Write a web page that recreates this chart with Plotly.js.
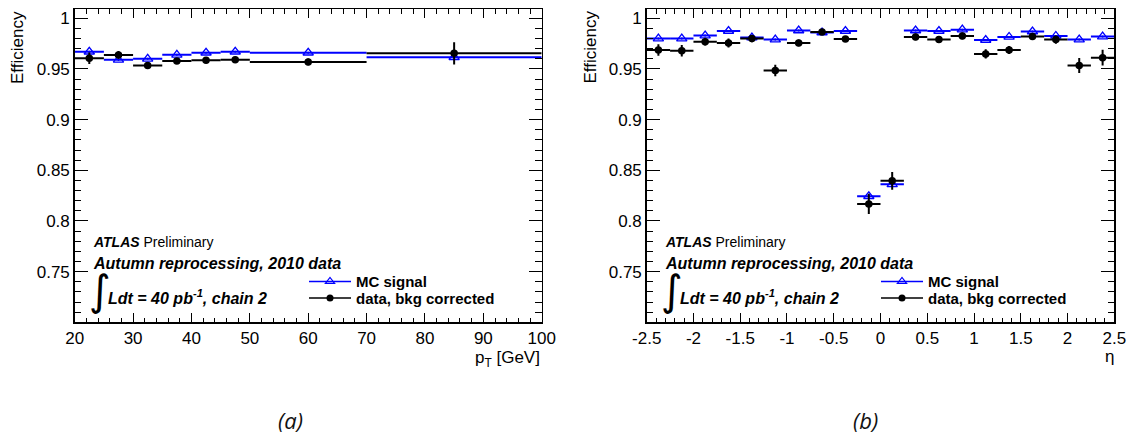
<!DOCTYPE html>
<html><head><meta charset="utf-8">
<script src="https://cdn.plot.ly/plotly-3.0.1.min.js"></script>
<style>html,body{margin:0;padding:0;background:#fff}#chart{width:1128px;height:435px}</style>
</head><body><div id="chart"></div>
<script>
// ---- data: panel (a) efficiency vs pT ----
const ptBinCenters = [22.5, 27.5, 32.5, 37.5, 42.5, 47.5, 60, 85];
const ptBinHalfWidths = [2.5, 2.5, 2.5, 2.5, 2.5, 2.5, 10, 15];
const ptMC = [0.967, 0.959, 0.960, 0.964, 0.966, 0.967, 0.966, 0.9616];
const ptMCErr = [0.001, 0.001, 0.001, 0.001, 0.001, 0.001, 0.001, 0.001];
const ptData = [0.9606, 0.9639, 0.9534, 0.958, 0.9587, 0.959, 0.957, 0.9655];
const ptDataErr = [0.0057, 0.0038, 0.003, 0.0028, 0.003, 0.003, 0.0033, 0.011];

// ---- data: panel (b) efficiency vs eta ----
const etaBinCenters = [-2.375, -2.125, -1.875, -1.625, -1.375, -1.125, -0.875, -0.625, -0.375, -0.125,
                       0.125, 0.375, 0.625, 0.875, 1.125, 1.375, 1.625, 1.875, 2.125, 2.375];
const etaBinHalfWidths = [0.125, 0.125, 0.125, 0.125, 0.125, 0.125, 0.125, 0.125, 0.125, 0.125,
                          0.125, 0.125, 0.125, 0.125, 0.125, 0.125, 0.125, 0.125, 0.125, 0.125];
const etaMC = [0.980, 0.980, 0.983, 0.9875, 0.981, 0.979, 0.988, 0.986, 0.9875, 0.8244,
               0.8362, 0.988, 0.9875, 0.9888, 0.9786, 0.9816, 0.987, 0.9826, 0.979, 0.982];
const etaMCErr = [0.001, 0.001, 0.001, 0.001, 0.001, 0.001, 0.001, 0.001, 0.001, 0.002,
                  0.002, 0.001, 0.001, 0.001, 0.001, 0.001, 0.001, 0.001, 0.001, 0.001];
const etaData = [0.9688, 0.968, 0.977, 0.9757, 0.980, 0.9485, 0.9757, 0.9865, 0.9796, 0.8168,
                 0.8396, 0.9816, 0.979, 0.9826, 0.9649, 0.9688, 0.982, 0.979, 0.9534, 0.9612];
const etaDataErr = [0.0057, 0.0057, 0.0038, 0.0044, 0.0036, 0.0057, 0.0033, 0.0026, 0.003, 0.01,
                    0.0087, 0.0033, 0.0033, 0.0033, 0.0046, 0.004, 0.0033, 0.004, 0.0074, 0.0078];

// ---- tick labels ----
const yTickVals = [0.75, 0.8, 0.85, 0.9, 0.95, 1];
const yTickLabels = ['0.75', '0.8', '0.85', '0.9', '0.95', '1'];
const ptTickVals = [20, 30, 40, 50, 60, 70, 80, 90, 100];
const ptTickLabels = ['20', '30', '40', '50', '60', '70', '80', '90', '100'];
const etaTickVals = [-2.5, -2, -1.5, -1, -0.5, 0, 0.5, 1, 1.5, 2, 2.5];
const etaTickLabels = ['-2.5', '-2', '-1.5', '-1', '-0.5', '0', '0.5', '1', '1.5', '2', '2.5'];

const seriesNames = ['MC signal', 'data, bkg corrected'];

// ---- layout helpers ----
const W = 1128, H = 435;
const px = v => v / W;
const py = v => 1 - v / H;
const F = '"Liberation Sans", Arial, Helvetica, sans-serif';
const BLUE = '#0000ff';

const mcMarker = {symbol: 'triangle-up-open', size: 9, color: BLUE, line: {width: 1.3, color: BLUE}};
const dataMarker = {symbol: 'circle', size: 7.5, color: 'black', line: {width: 0}};
const mcLegMarker = {symbol: 'triangle-up-open', size: 8, color: BLUE, line: {width: 1.2, color: BLUE}};
const dataLegMarker = {symbol: 'circle', size: 7, color: 'black', line: {width: 0}};

function mcTrace(x, hw, y, ey, xa, ya) {
  return {type: 'scatter', mode: 'markers', x: x, y: y, xaxis: xa, yaxis: ya,
    marker: mcMarker, showlegend: false, hoverinfo: 'skip',
    error_x: {type: 'data', array: hw, width: 0, thickness: 2, color: BLUE},
    error_y: {type: 'data', array: ey, width: 0, thickness: 1.5, color: BLUE}};
}
function dataTrace(x, hw, y, ey, xa, ya) {
  return {type: 'scatter', mode: 'markers', x: x, y: y, xaxis: xa, yaxis: ya,
    marker: dataMarker, showlegend: false, hoverinfo: 'skip',
    error_x: {type: 'data', array: hw, width: 0, thickness: 2, color: 'black'},
    error_y: {type: 'data', array: ey, width: 0, thickness: 2, color: 'black'}};
}
function legendTrace(name, color, marker, legendId, xa, ya) {
  return {type: 'scatter', mode: 'lines+markers', x: [null], y: [null], xaxis: xa, yaxis: ya,
    name: name, legend: legendId, showlegend: true,
    line: {color: color, width: 1.5}, marker: marker};
}

const traces = [
  mcTrace(ptBinCenters, ptBinHalfWidths, ptMC, ptMCErr, 'x', 'y'),
  dataTrace(ptBinCenters, ptBinHalfWidths, ptData, ptDataErr, 'x', 'y'),
  mcTrace(etaBinCenters, etaBinHalfWidths, etaMC, etaMCErr, 'x2', 'y2'),
  dataTrace(etaBinCenters, etaBinHalfWidths, etaData, etaDataErr, 'x2', 'y2'),
  legendTrace(seriesNames[0], BLUE, mcLegMarker, 'legend', 'x', 'y'),
  legendTrace(seriesNames[1], 'black', dataLegMarker, 'legend2', 'x', 'y'),
  legendTrace(seriesNames[0], BLUE, mcLegMarker, 'legend3', 'x2', 'y2'),
  legendTrace(seriesNames[1], 'black', dataLegMarker, 'legend4', 'x2', 'y2')
];

const axisCommon = {
  showline: true, linecolor: 'black', linewidth: 1.5, mirror: 'ticks',
  ticks: 'inside', tickcolor: 'black', tickwidth: 1, showgrid: false, zeroline: false,
  tickfont: {family: F, size: 17, color: 'black'}, fixedrange: true
};
const yDomain = [py(322.3), py(9)];
const xDomainA = [px(74.7), px(541.7)];
const xDomainB = [px(646.7), px(1114.3)];

function yAxis(anchor) {
  return Object.assign({}, axisCommon, {
    domain: yDomain, range: [0.70, 1.0092], anchor: anchor,
    tickmode: 'array', tickvals: yTickVals, ticktext: yTickLabels, ticklen: 13,
    minor: {tickmode: 'linear', tick0: 0.7, dtick: 0.01, ticklen: 6.5, ticks: 'inside', tickcolor: 'black', tickwidth: 1}
  });
}

function legendAt(x, y) {
  return {x: px(x), y: py(y), xanchor: 'left', yanchor: 'middle', xref: 'paper', yref: 'paper',
    bgcolor: 'rgba(0,0,0,0)', borderwidth: 0, itemwidth: 42,
    font: {family: F, size: 15, color: 'black', weight: 'bold'}};
}

const annotations = [];
function addText(text, x, y, size, opts) {
  annotations.push(Object.assign({text: text, x: px(x), y: py(y), xref: 'paper', yref: 'paper',
    xanchor: 'left', yanchor: 'middle', showarrow: false,
    font: {family: F, size: size, color: 'black'}}, opts || {}));
}
[0, 572].forEach(off => {
  addText('<b><i>ATLAS</i></b> Preliminary', 91 + off, 241.7, 14);
  addText('<b><i>Autumn reprocessing, 2010 data</i></b>', 91 + off, 263.3, 16);
  addText('\u222B', 87 + off, 290.5, 42, {font: {family: 'DejaVu Sans', size: 42, color: 'black'}});
  addText('<b><i>Ldt = 40 pb<sup>-1</sup>, chain 2</i></b>', 106 + off, 296.7, 16);
});
// y axis titles
[17.5, 590].forEach(x => {
  annotations.push({text: 'Efficiency', x: px(x), y: py(9), xref: 'paper', yref: 'paper',
    xanchor: 'center', yanchor: 'top', textangle: -90, showarrow: false,
    font: {family: F, size: 17, color: 'black'}});
});
// x axis titles
annotations.push({text: 'p<sub>T</sub> [GeV]', x: px(542), y: py(346), xref: 'paper', yref: 'paper',
  xanchor: 'right', yanchor: 'top', showarrow: false, font: {family: F, size: 17, color: 'black'}});
annotations.push({text: '\u03B7', x: px(1116), y: py(345), xref: 'paper', yref: 'paper',
  xanchor: 'right', yanchor: 'top', showarrow: false, font: {family: F, size: 17, color: 'black'}});
// panel labels
annotations.push({text: '<i>(a)</i>', x: px(290), y: py(420), xref: 'paper', yref: 'paper',
  xanchor: 'center', yanchor: 'middle', showarrow: false, font: {family: 'Open Sans', size: 22, color: '#111'}});
annotations.push({text: '<i>(b)</i>', x: px(865), y: py(420), xref: 'paper', yref: 'paper',
  xanchor: 'center', yanchor: 'middle', showarrow: false, font: {family: 'Open Sans', size: 22, color: '#111'}});

const layout = {
  width: W, height: H, margin: {l: 0, r: 0, t: 0, b: 0},
  paper_bgcolor: 'white', plot_bgcolor: 'white',
  font: {family: F, color: 'black'},
  xaxis: Object.assign({}, axisCommon, {
    domain: xDomainA, range: [20, 100], anchor: 'y',
    tickmode: 'array', tickvals: ptTickVals, ticktext: ptTickLabels, ticklen: 9,
    minor: {tickmode: 'linear', tick0: 20, dtick: 2, ticklen: 4.5, ticks: 'inside', tickcolor: 'black', tickwidth: 1}
  }),
  yaxis: yAxis('x'),
  xaxis2: Object.assign({}, axisCommon, {
    domain: xDomainB, range: [-2.5, 2.5], anchor: 'y2',
    tickmode: 'array', tickvals: etaTickVals, ticktext: etaTickLabels, ticklen: 9,
    minor: {tickmode: 'linear', tick0: -2.5, dtick: 0.1, ticklen: 4.5, ticks: 'inside', tickcolor: 'black', tickwidth: 1}
  }),
  yaxis2: yAxis('x2'),
  legend: legendAt(304, 281.7),
  legend2: legendAt(304, 298.3),
  legend3: legendAt(876, 281.7),
  legend4: legendAt(876, 298.3),
  annotations: annotations
};

Plotly.newPlot('chart', traces, layout, {displayModeBar: false, staticPlot: true});
</script></body></html>
